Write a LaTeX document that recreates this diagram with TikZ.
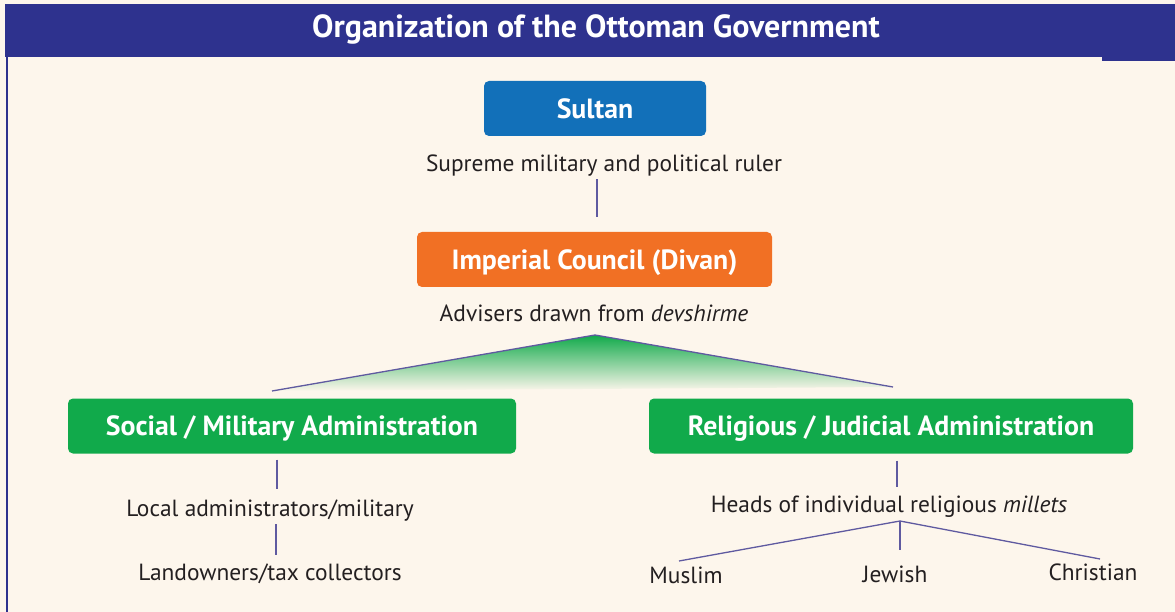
\documentclass[tikz,border=0pt]{standalone}
\usepackage{fontspec}
\setmainfont{PT Sans}
\definecolor{bgcol}{HTML}{FDF6EC}
\definecolor{barcol}{HTML}{2E328E}
\definecolor{sultancol}{HTML}{1270B9}
\definecolor{councilcol}{HTML}{F17024}
\definecolor{admincol}{HTML}{11AA4B}
\definecolor{linecol}{HTML}{5F5AA0}
\definecolor{txtcol}{HTML}{231F20}

\begin{document}
\begin{tikzpicture}[x=1pt,y=-1pt,
		box/.style={rounded corners=5pt,minimum height=55pt,text depth=0pt,text=white,font=\fontsize{27.8}{32}\selectfont\bfseries},
		txt/.style={text=txtcol,font=\fontsize{23.4}{28}\selectfont,text depth=0pt,inner sep=0pt},
		link/.style={draw=linecol,line width=1.3pt}]
	\useasboundingbox (0,0) rectangle (1175,612);
	\fill[bgcol] (0,0) rectangle (1175,612);
	\fill[barcol] (5,4) rectangle (1175,57);
	\fill[barcol] (1102,57) rectangle (1175,61);
	\draw[barcol,line width=2pt] (7,57) -- (7,612);
	\node[text=white,font=\fontsize{32}{36}\selectfont\bfseries] (title) at (596,29) {Organization of the Ottoman Government};
	\node[box,fill=sultancol,minimum width=222pt] (sultan) at (595,108.5) {Sultan};
	\node[txt] (ruler) at (604,163) {Supreme military and political ruler};
	\node[box,fill=councilcol,minimum width=355pt] (council) at (594.5,259.5) {Imperial Council (Divan)};
	\node[txt] (advisers) at (594,313) {Advisers drawn from \textit{devshirme}};
	\node[box,fill=admincol,minimum width=448pt] (social) at (292,426) {Social / Military Administration};
	\node[box,fill=admincol,minimum width=484pt] (relig) at (891,426) {Religious / Judicial Administration};
	\node[txt] (local) at (270,508) {Local administrators/military};
	\node[txt] (land) at (270,572) {Landowners/tax collectors};
	\node[txt] (heads) at (889,504) {Heads of individual religious \textit{millets}};
	\node[txt] (muslim) at (686,575) {Muslim};
	\node[txt] (jewish) at (895,574) {Jewish};
	\node[txt] (christian) at (1093,572) {Christian};
	\coordinate (apex) at (595,335);
	\coordinate (lend) at (272,391);
	\coordinate (rend) at (893,387);
	\coordinate (fork) at (900,521);
	\coordinate (mend) at (679,561);
	\coordinate (jend) at (900,550);
	\coordinate (cend) at (1100,559);
	\shade[top color=admincol,middle color=admincol!40!bgcol,bottom color=bgcol] (apex) -- (lend) -- (rend) -- cycle;
	\draw[link] (lend) -- (apex) -- (rend);
	\draw[link] ([xshift=2.5pt,yshift=-7.5pt]council.north |- ruler.south) -- ([xshift=2.5pt,yshift=15pt]council.north);
	\draw[link] ([xshift=7pt,yshift=-6pt]social.south -| local) -- ([xshift=7pt,yshift=10.5pt]local.north);
	\draw[link] ([xshift=6pt,yshift=-7.5pt]local.south) -- ([xshift=6pt,yshift=8.5pt]land.north);
	\draw[link] ([xshift=8pt,yshift=-7pt]relig.south -| heads) -- ([xshift=8pt,yshift=8.5pt]heads.north);
	\draw[link] (fork) -- (mend);
	\draw[link] (fork) -- (jend);
	\draw[link] (fork) -- (cend);
\end{tikzpicture}
\end{document}
